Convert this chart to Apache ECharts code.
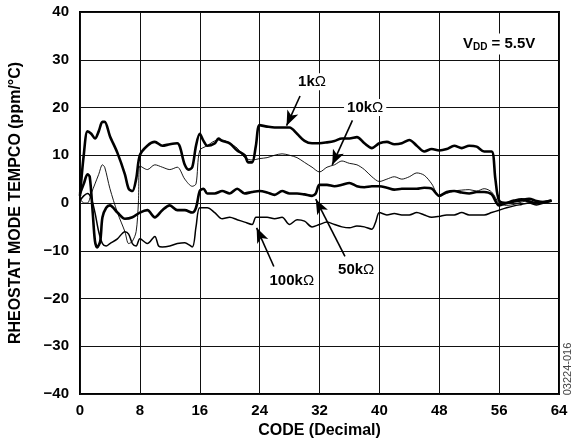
<!DOCTYPE html>
<html><head><meta charset="utf-8">
<script src="https://cdn.jsdelivr.net/npm/echarts@6/dist/echarts.min.js"></script>
<style>html,body{margin:0;padding:0;background:#fff}#c{width:575px;height:445px}</style>
</head><body><div id="c"></div>
<script>
// ---- data ----
const xTicks = [0, 8, 16, 24, 32, 40, 48, 56, 64];
const yTicks = [-40, -30, -20, -10, 0, 10, 20, 30, 40];

const r1kCodes  = [0,0.5,1,1.5,2,2.5,3,3.3,4,5,6,6.5,7,7.5,8,9,10,11,12,13,14,14.5,15,15.5,16,16.5,17,18,18.5,19,20,21,22,22.5,23,23.5,24,25,26,27,28,29,30,31,32,33,34,35,36,37,38,39,40,41,42,43,44,45,46,47,48,49,50,51,52,53,54,55,55.5,56,57,58,59,60,61,62,63];
const r1kValues = [1.5,10,15,14.5,13.5,15,17,17,14,10.5,6,3,2.5,5,10,12,12.8,12,12.3,12.5,8,7,7.5,12,14.5,13,12,12.5,13.5,13,12.5,11,10,8.5,8.5,12,16.3,16,15.8,15.8,15.8,14.5,13,12.5,12.5,12.7,13,13.5,13.5,13.8,12.5,11.5,12.5,12.8,12.3,12.5,13.2,12,10.8,11.3,11,11.3,12,11.5,12,11.8,10.8,10.8,5,0.5,0,0.3,0.6,0.9,0.4,0.2,0.5];

const r10kCodes  = [0,0.5,1,1.5,2,2.5,3,3.3,4,5,6,6.5,7,7.5,7.8,8,9,10,11,12,13,14,15,15.5,16,17,18,19,20,21,22,23,24,25,26,27,28,29,30,31,32,33,34,35,36,37,38,39,40,41,42,43,44,45,46,47,48,49,50,51,52,53,54,55,56,57,58,59,60,61,62,63];
const r10kValues = [1,0,0,2,4,6,8,7.5,3,-2,-6,-8.5,-8,-6,0,7.8,7,8,7.5,7,7.5,5,3.5,4,11,12,13,13.2,12.5,11.5,9.5,9,9.3,9.5,10,10.3,10,9.5,8.5,7.5,6.5,7.5,8,8.8,8.3,8,7,5.5,4.5,5,5.5,5,5.5,6.3,5.8,4,1.5,2,2.5,2.7,2.8,2.5,3,2.3,0,-0.5,-0.3,0.2,0.5,-0.2,0.1,0.5];

const r50kCodes  = [0,0.5,1,1.3,1.7,2,2.3,2.7,3,3.5,4,5,6,7,8,9,10,11,12,13,14,15,15.5,16,16.5,17,18,19,20,21,22,23,24,25,26,27,28,29,30,31,31.5,32,33,34,35,36,37,38,39,40,41,42,43,44,45,46,47,48,49,50,51,52,53,54,55,56,57,58,59,60,61,62,63];
const r50kValues = [2,4,6,5.5,-2,-8,-9.3,-8,-3,-1,-0.5,-2,-3.3,-3,-2,-1.5,-3,-1.5,-0.5,-1.5,-1.5,-2,-1,2.5,3,2,2,2.5,2,3,2,2.3,2.5,2.2,1.7,2.5,2,2,1.8,1.5,2,3.8,3.8,3.5,3.8,4.2,3.5,3.3,3.5,3.5,3.2,2.8,3,3,3,3.2,3,1.5,2.3,2.5,2.2,2,2.3,2.3,1.8,-0.5,0,0.5,0.8,0.3,0,0.2,0.5];

const r100kCodes  = [0,0.5,1,1.5,2,2.5,3,3.5,4,5,6,6.5,7,7.5,8,9,10,10.5,11,12,13,14,15,15.5,16,17,18,19,20,21,22,23,23.5,24,25,26,27,28,29,30,31,32,33,34,35,36,37,38,39,39.5,40,41,42,43,44,45,46,47,48,49,50,51,52,53,54,55,56,57,58,59,60,61,62,63];
const r100kValues = [0.5,1.5,2,1,-2,-6,-8.5,-9,-8.5,-7.5,-6,-6.5,-8.5,-9,-7.5,-8.5,-7,-9,-9.2,-9,-8.5,-8.3,-9.2,-5,-1,-1,-2,-3.3,-3,-3.5,-4,-4.5,-3,-3,-3,-3.3,-3,-4.5,-3.5,-3.8,-5,-4.5,-4,-4.5,-5,-5.2,-4.8,-5,-5.5,-4,-2,-2.5,-2.2,-2.5,-2.5,-2,-2.5,-3,-2.8,-2.5,-2.5,-2,-2.5,-2.5,-2.5,-2,-1.5,-1,-0.6,-0.3,0,-0.4,0,0.5];

const seriesNames = ['1k', '10k', '50k', '100k'];

// annotation arrows in data coordinates: [from, to]
const arrows = [
  [[29.4, 22.4], [27.6, 16.2]],
  [[36.4, 17.3], [33.7, 8.0]],
  [[35.4, -11.2], [31.5, 0.8]],
  [[25.9, -13.3], [23.6, -5.2]]
];

const FONT = '"Liberation Sans", Arial, Helvetica, sans-serif';
const zip = (a, b) => a.map((v, i) => [v, b[i]]);

const chart = echarts.init(document.getElementById('c'), null, {renderer: 'canvas'});

const mk = (name, codes, vals, w) => ({
  name, type: 'line', data: zip(codes, vals), showSymbol: false, symbol: 'none',
  smooth: 0.3, lineStyle: {color: '#000', width: w}, z: 3, silent: true
});

chart.setOption({
  animation: false,
  backgroundColor: '#fff',
  grid: {left: 80, right: 16, top: 12, bottom: 51, show: true, borderColor: '#000', borderWidth: 2},
  xAxis: {
    type: 'value', min: 0, max: 64, interval: 8,
    name: 'CODE (Decimal)', nameLocation: 'middle', nameGap: 29,
    nameTextStyle: {fontFamily: FONT, fontWeight: 'bold', fontSize: 16, color: '#000'},
    axisLine: {show: false}, axisTick: {show: false},
    axisLabel: {fontFamily: FONT, fontWeight: 'bold', fontSize: 15, color: '#000', margin: 9},
    splitLine: {show: true, lineStyle: {color: '#111', width: 1}}
  },
  yAxis: {
    type: 'value', min: -40, max: 40, interval: 10,
    name: 'RHEOSTAT MODE TEMPCO (ppm/°C)', nameLocation: 'middle', nameGap: 56,
    nameTextStyle: {fontFamily: FONT, fontWeight: 'bold', fontSize: 16, color: '#000'},
    axisLine: {show: false}, axisTick: {show: false},
    axisLabel: {fontFamily: FONT, fontWeight: 'bold', fontSize: 15, color: '#000', margin: 11,
      formatter: v => String(v).replace('-', '\u2212')},
    splitLine: {show: true, lineStyle: {color: '#111', width: 1}}
  },
  series: [
    mk(seriesNames[0], r1kCodes, r1kValues, 2.6),
    mk(seriesNames[1], r10kCodes, r10kValues, 0.9),
    mk(seriesNames[2], r50kCodes, r50kValues, 2.6),
    mk(seriesNames[3], r100kCodes, r100kValues, 1.5),
    {
      type: 'line', data: [], silent: true,
      markLine: {
        silent: true, animation: false, symbol: ['none', 'arrow'], symbolSize: [9, 15],
        label: {show: false},
        lineStyle: {color: '#000', width: 1.6, type: 'solid'},
        data: arrows.map(a => [{coord: a[0]}, {coord: a[1]}])
      }
    }
  ]
});

const P = (x, y) => chart.convertToPixel({gridIndex: 0}, [x, y]);
const rich = {
  a: {font: 'bold 15px ' + FONT, fill: '#000'},
  o: {font: '15px ' + FONT, fill: '#000'},
  s: {font: 'bold 10px ' + FONT, fill: '#000', padding: [7, 0, 0, 0]}
};
const lbl = (name, pos) => ({
  type: 'text', x: pos[0], y: pos[1], z: 10,
  style: {text: '{a|' + name + '}{o|Ω}', rich, align: 'center', verticalAlign: 'middle',
    backgroundColor: '#fff', padding: [1, 3]}
});

const p1 = P(31.0, 25.4), p10 = P(38.1, 20.0), p50 = P(36.9, -14.0), p100 = P(28.3, -16.4), pv = P(56, 33.3);
chart.setOption({
  graphic: [
    lbl(seriesNames[0], p1),
    lbl(seriesNames[1], p10),
    lbl(seriesNames[2], p50),
    lbl(seriesNames[3], p100),
    {type: 'text', x: pv[0], y: pv[1], z: 10,
     style: {rich, text: '{a|V}{s|DD}{a| = 5.5V}', align: 'center', verticalAlign: 'middle', backgroundColor: '#fff', padding: [2, 4]}},
    {type: 'text', x: 568, y: 369, rotation: Math.PI / 2, z: 10,
     style: {text: '03224-016', font: '11px ' + FONT, fill: '#444', align: 'center', verticalAlign: 'middle'}}
  ]
});
</script></body></html>
